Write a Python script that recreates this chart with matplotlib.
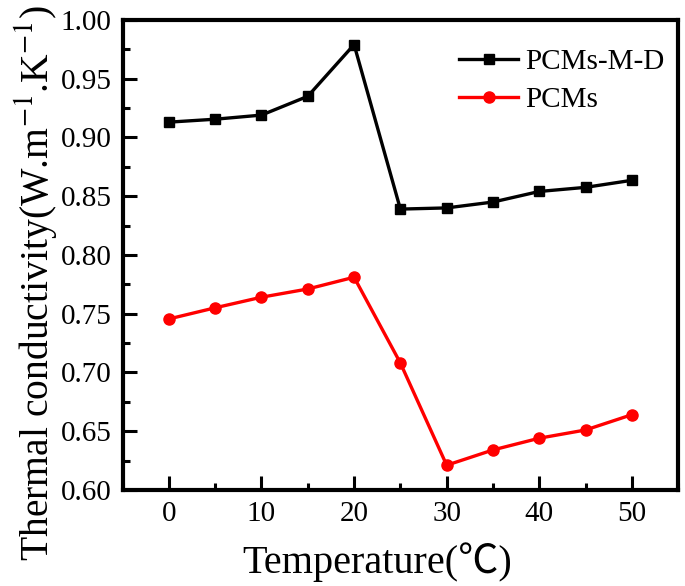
import numpy as np
import matplotlib
matplotlib.use('Agg')
import matplotlib.pyplot as plt
from matplotlib.ticker import MultipleLocator

# fonts: Times-like serif, CJK fallback for the degree-Celsius sign
plt.rcParams['font.family'] = ['Liberation Serif', 'Noto Sans CJK SC', 'DejaVu Serif']
plt.rcParams['mathtext.fontset'] = 'stix'

# data
temperature = [0, 5, 10, 15, 20, 25, 30, 35, 40, 45, 50]
pcms_m_d = [0.913, 0.9155, 0.919, 0.935, 0.979, 0.839, 0.840, 0.845, 0.854, 0.8575, 0.8635]
pcms = [0.7455, 0.755, 0.764, 0.771, 0.781, 0.708, 0.621, 0.634, 0.644, 0.651, 0.664]
x_ticks = [0, 10, 20, 30, 40, 50]
y_ticks = [0.60, 0.65, 0.70, 0.75, 0.80, 0.85, 0.90, 0.95, 1.00]

fig = plt.figure(figsize=(6.85, 5.86), dpi=100)
ax = fig.add_axes([0.179, 0.164, 0.811, 0.802])

ax.plot(temperature, pcms_m_d, color='black', lw=2.4, marker='s', ms=7.5, label='PCMs-M-D')
ax.plot(temperature, pcms, color='red', lw=2.4, marker='o', ms=8, label='PCMs')

ax.set_xlim(-5, 55)
ax.set_ylim(0.60, 1.00)
ax.set_xticks(x_ticks)
ax.set_yticks(y_ticks)
ax.set_yticklabels([f'{v:.2f}' for v in y_ticks])
ax.xaxis.set_minor_locator(MultipleLocator(5))
ax.yaxis.set_minor_locator(MultipleLocator(0.025))

ax.tick_params(which='both', direction='in', width=2.2, labelsize=21, pad=8)
ax.tick_params(which='major', length=10)
ax.tick_params(which='minor', length=5)
for s in ax.spines.values():
    s.set_linewidth(3)

ax.set_xlabel('Temperature(\u2103)', fontsize=29)
ax.xaxis.set_label_coords(0.458, -0.112)
ax.set_ylabel('Thermal conductivity(W.m$^{-1}$.K$^{-1}$)', fontsize=28.5)
# label sits a little below the axes centre in the reference
ax.yaxis.set_label_coords(-0.115, 0.44)

ax.legend(loc='upper right', bbox_to_anchor=(0.996, 0.964), frameon=False, fontsize=21,
          handlelength=2.0, handletextpad=0.25, labelspacing=0.4, borderaxespad=0)

fig.savefig('out.png', dpi=100)
